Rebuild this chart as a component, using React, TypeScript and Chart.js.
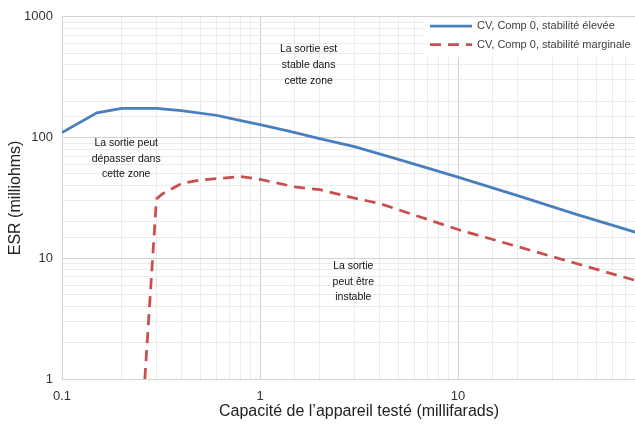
import React, { useEffect, useRef } from 'react';
import { Chart, registerables } from 'chart.js';

Chart.register(...registerables);

// ---- data ----
const capBlue = [0.1, 0.15, 0.2, 0.3, 0.4, 0.6, 0.8, 1, 1.4, 2, 3, 5, 10, 20, 40, 80, 100];
const esrBlue = [110, 160, 174, 174, 167, 153, 138, 128, 113, 98, 84, 66, 47, 33, 23, 16.3, 14.5];

const capRed = [0.262, 0.3, 0.32, 0.4, 0.5, 0.8, 1, 1.5, 2, 3, 4, 10, 20, 40, 80, 100];
const esrRed = [1, 31, 34, 41.5, 44.5, 47.5, 45, 39, 37, 31.5, 28.5, 17.3, 12.5, 9.0, 6.5, 5.9];

const seriesNames = ['CV, Comp 0, stabilité élevée', 'CV, Comp 0, stabilité marginale'];
const xTickLabels = ['0.1', '1', '10', '100'];
const yTickLabels = ['1', '10', '100', '1000'];
const xTitle = 'Capacité de l’appareil testé (millifarads)';
const yTitle = 'ESR (milliohms)';

const noteCaps = [0.211, 1.76, 2.96];
const noteEsrs = [90, 538, 8.6];
const noteLines = [
  ['La sortie peut', 'dépasser dans', 'cette zone'],
  ['La sortie est', 'stable dans', 'cette zone'],
  ['La sortie', 'peut être', 'instable'],
];

// ---- styles ----
const FONT = '"Liberation Sans", Arial, Helvetica, sans-serif';
const BLUE = '#4a7ebf';
const RED = '#c8504c';
const MAJOR = '#d2d2d2';
const MINOR = '#ebebeb';

const fmt = (v: number) => String(Number(Number(v).toPrecision(6)));
const isMajor = (v: number) => {
  if (v == null || v <= 0) return false;
  const l = Math.log10(v);
  return Math.abs(l - Math.round(l)) < 1e-6;
};

const overlayPlugin = {
  id: 'overlay',
  afterDatasetsDraw(chart: any) {
    const ctx = chart.ctx;
    const xs = chart.scales.x;
    const ys = chart.scales.y;
    ctx.save();
    // annotations
    ctx.font = `10.5px ${FONT}`;
    ctx.fillStyle = '#111';
    ctx.textAlign = 'center';
    ctx.textBaseline = 'middle';
    noteLines.forEach((lines, k) => {
      const px = xs.getPixelForValue(noteCaps[k]);
      const py = ys.getPixelForValue(noteEsrs[k]);
      lines.forEach((l, i) => ctx.fillText(l, px, py + i * 15.7));
    });
    // legend
    ctx.fillStyle = '#ffffff';
    ctx.fillRect(425, 17, 260, 40);
    const items = [
      { color: BLUE, dash: [] as number[], y: 26 },
      { color: RED, dash: [11, 7], y: 44.5 },
    ];
    ctx.font = `11px ${FONT}`;
    ctx.textAlign = 'left';
    items.forEach((it, i) => {
      ctx.beginPath();
      ctx.setLineDash(it.dash);
      ctx.strokeStyle = it.color;
      ctx.lineWidth = 2.75;
      ctx.moveTo(430, it.y);
      ctx.lineTo(472, it.y);
      ctx.stroke();
      ctx.setLineDash([]);
      ctx.fillStyle = '#404040';
      ctx.fillText(seriesNames[i], 477, it.y);
    });
    ctx.restore();
  },
};

export default function App() {
  const ref = useRef<HTMLCanvasElement | null>(null);

  useEffect(() => {
    if (!ref.current) return;
    const blueData = capBlue.map((c, i) => ({ x: c, y: esrBlue[i] }));
    const redData = capRed.map((c, i) => ({ x: c, y: esrRed[i] }));
    const chart = new Chart(ref.current, {
      type: 'line',
      data: {
        datasets: [
          {
            label: seriesNames[0],
            data: blueData,
            borderColor: BLUE,
            backgroundColor: BLUE,
            borderWidth: 2.75,
            pointRadius: 0,
            tension: 0,
          },
          {
            label: seriesNames[1],
            data: redData,
            borderColor: RED,
            backgroundColor: RED,
            borderWidth: 2.75,
            borderDash: [11, 7],
            pointRadius: 0,
            tension: 0,
          },
        ],
      },
      options: {
        responsive: false,
        animation: false,
        layout: { padding: { top: 16, right: 24, bottom: 0, left: 0 } },
        plugins: {
          legend: { display: false },
          tooltip: { enabled: false },
        },
        scales: {
          x: {
            type: 'logarithmic',
            min: 0.1,
            max: 100,
            afterFit: (s: any) => { s.height = 53; },
            border: { display: true, color: MAJOR },
            grid: {
              drawTicks: false,
              tickLength: 0,
              color: (c: any) => (isMajor(c.tick?.value) ? MAJOR : MINOR),
            },
            ticks: {
              autoSkip: false,
              maxRotation: 0,
              padding: 10,
              color: '#333',
              font: { family: FONT, size: 13 },
              callback: (v: any) => {
                const s = fmt(v);
                return xTickLabels.includes(s) ? s : '';
              },
            },
            title: {
              display: true,
              text: xTitle,
              color: '#222',
              font: { family: FONT, size: 16 },
              padding: { top: 0, bottom: 11 },
            },
          },
          y: {
            type: 'logarithmic',
            min: 1,
            max: 1000,
            afterFit: (s: any) => { s.width = 62; },
            border: { display: true, color: MAJOR },
            grid: {
              drawTicks: false,
              tickLength: 0,
              color: (c: any) => (isMajor(c.tick?.value) ? MAJOR : MINOR),
            },
            ticks: {
              autoSkip: false,
              padding: 9,
              color: '#333',
              font: { family: FONT, size: 13 },
              callback: (v: any) => {
                const s = fmt(v);
                return yTickLabels.includes(s) ? s : '';
              },
            },
            title: {
              display: true,
              text: yTitle,
              color: '#222',
              font: { family: FONT, size: 16 },
              padding: { top: 6, bottom: 0 },
            },
          },
        },
      },
      plugins: [overlayPlugin],
    } as any);
    return () => chart.destroy();
  }, []);

  return (
    <div
      style={{
        position: 'fixed',
        left: 0,
        top: 0,
        width: 635,
        height: 428,
        overflow: 'hidden',
        background: '#fff',
      }}
    >
      <canvas ref={ref} width={680} height={432} style={{ display: 'block', width: 680, height: 432 }} />
    </div>
  );
}
